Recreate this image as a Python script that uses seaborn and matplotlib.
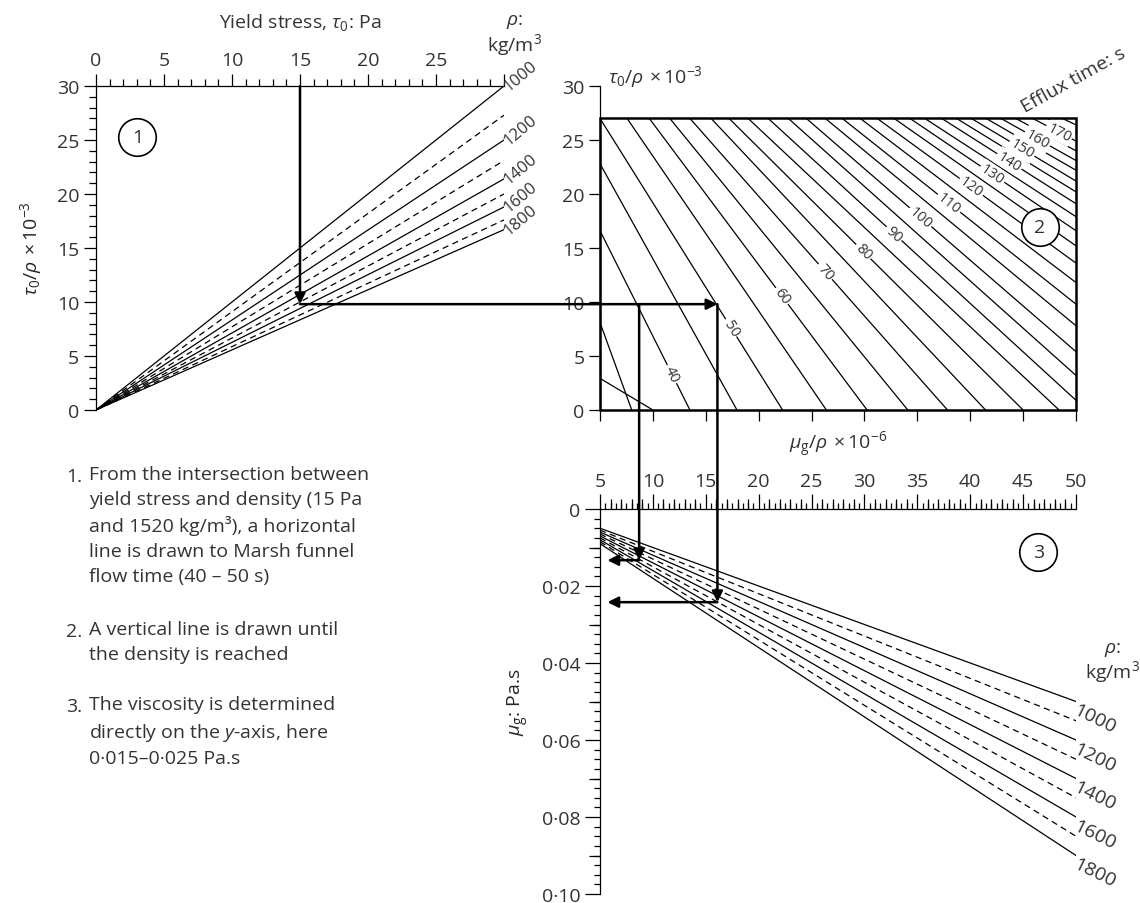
import numpy as np
import pandas as pd
import matplotlib
matplotlib.use("Agg")
import matplotlib.pyplot as plt
import seaborn as sns
from matplotlib.patches import Rectangle, ConnectionPatch
from matplotlib.ticker import MultipleLocator, FixedLocator, FuncFormatter

# ---------------- values ----------------
densities = [1000, 1100, 1200, 1300, 1400, 1500, 1600, 1700, 1800]
density_style = ["solid", "dashed", "solid", "dashed", "solid", "dashed", "solid", "dashed", "solid"]
density_labels = [1000, 1200, 1400, 1600, 1800]

# panel 1: tau0/rho (x1e-3) at tau0 = 0 and 30 Pa
p1_x = [0, 30]
p1_y_start = [0, 0, 0, 0, 0, 0, 0, 0, 0]
p1_y_end = [30.0, 27.3, 25.0, 23.1, 21.4, 20.0, 18.8, 17.6, 16.7]

# panel 3: mu_g (Pa.s) at mu_g/rho = 5 and 50
p3_x = [5, 50]
p3_y_start = [0.0050, 0.0055, 0.0060, 0.0065, 0.0070, 0.0075, 0.0080, 0.0085, 0.0090]
p3_y_end = [0.050, 0.055, 0.060, 0.065, 0.070, 0.075, 0.080, 0.085, 0.090]

# panel 2: efflux-time lines, end points on the frame (mu_g/rho, tau0/rho)
efflux_t = [30, 35, 40, 45, 50, 55, 60, 65, 70, 75, 80, 85, 90, 95, 100, 105, 110,
            115, 120, 125, 130, 135, 140, 145, 150, 155, 160, 165, 170, 175, 180]
efflux_x0 = [5, 5, 5, 5, 5, 7.56, 9.66, 11.6, 13.5, 15.5, 17.2, 19.0, 20.9, 22.8, 24.5, 26.3,
             27.9, 29.6, 31.2, 32.8, 34.3, 35.7, 37.3, 38.7, 40.1, 41.5, 42.9, 44.3, 45.9, 47.3, 48.7]
efflux_y0 = [2.93, 8.1, 16.6, 22.8, 27, 27, 27, 27, 27, 27, 27, 27, 27, 27, 27, 27,
             27, 27, 27, 27, 27, 27, 27, 27, 27, 27, 27, 27, 27, 27, 27]
efflux_x1 = [10.0, 8.0, 13.5, 17.95, 22.26, 26.4, 30.25, 34.1, 37.85, 41.45, 45.0, 48.4, 50, 50, 50, 50,
             50, 50, 50, 50, 50, 50, 50, 50, 50, 50, 50, 50, 50, 50, 50]
efflux_y1 = [0, 0, 0, 0, 0, 0, 0, 0, 0, 0, 0, 0, 0.9, 3.2, 5.4, 7.8,
             9.8, 11.8, 13.6, 15.2, 16.6, 17.9, 19.1, 20.2, 21.2, 22.2, 23.1, 24.0, 24.9, 25.7, 26.4]
efflux_labels = [40, 50, 60, 70, 80, 90, 100, 110, 120, 130, 140, 150, 160, 170]
efflux_label_x = [11.8, 17.4, 22.2, 26.3, 29.9, 32.8, 35.3, 38.0, 40.1, 42.1, 43.7, 44.9, 46.35, 48.4]

# worked example
ex_tau = 15
ex_tau_rho = 9.8
ex_mu_rho = [8.7, 16.1]
ex_mu = [0.0133, 0.0242]
ex_arrow_end = 5.7

# ---------------- style ----------------
sns.set_theme(style="ticks")
plt.rcParams["font.family"] = ["Open Sans", "DejaVu Sans"]
plt.rcParams["mathtext.fontset"] = "custom"
plt.rcParams["mathtext.rm"] = "Open Sans"
plt.rcParams["mathtext.it"] = "Open Sans:italic"
plt.rcParams["mathtext.bf"] = "Open Sans:bold"
plt.rcParams["axes.edgecolor"] = "black"
plt.rcParams["axes.linewidth"] = 0.9
plt.rcParams["xtick.color"] = "black"
plt.rcParams["ytick.color"] = "black"
plt.rcParams["xtick.labelcolor"] = "#333333"
plt.rcParams["ytick.labelcolor"] = "#333333"
plt.rcParams["text.color"] = "#333333"

INK = "black"
FS = 14
W, H = 1140, 904


def rect(l, t, r, b):
    return [l / W, 1 - b / H, (r - l) / W, (b - t) / H]


fig = plt.figure(figsize=(W / 100, H / 100), dpi=100)
ax1 = fig.add_axes(rect(96, 87, 504, 411))
ax2 = fig.add_axes(rect(600, 87, 1076, 411))
ax3 = fig.add_axes(rect(600, 510, 1076, 895))
for ax in (ax1, ax2, ax3):
    ax.set_facecolor("none")
    for s in ax.spines.values():
        s.set_visible(False)

# ---------------- panel 1 ----------------
p1 = pd.DataFrame({
    "x": np.tile(p1_x, len(densities)),
    "y": np.ravel(np.column_stack([p1_y_start, p1_y_end])),
    "rho": np.repeat(densities, 2),
    "kind": np.repeat(density_style, 2),
})
sns.lineplot(data=p1, x="x", y="y", units="rho", estimator=None, style="kind",
             dashes={"solid": "", "dashed": (5, 3.5)}, color=INK, lw=0.9,
             legend=False, sort=False, ax=ax1)
ax1.set_xlim(0, 30)
ax1.set_ylim(0, 30)
ax1.spines["top"].set_visible(True)
ax1.spines["left"].set_visible(True)
ax1.xaxis.tick_top()
ax1.xaxis.set_major_locator(FixedLocator([0, 5, 10, 15, 20, 25, 30]))
ax1.xaxis.set_major_formatter(FuncFormatter(lambda v, p: "" if v == 30 else f"{v:g}"))
ax1.xaxis.set_minor_locator(MultipleLocator(1))
ax1.yaxis.set_major_locator(MultipleLocator(5))
ax1.yaxis.set_minor_locator(MultipleLocator(1))
ax1.tick_params(axis="both", which="major", length=9, width=0.9, labelsize=FS, pad=3)
ax1.tick_params(axis="both", which="minor", length=5, width=0.9)
ax1.set_xlabel("")
ax1.set_ylabel(r"$\tau_0/\rho\,\times 10^{-3}$", fontsize=FS, labelpad=9)
ax1.text(15, 36.0, r"Yield stress, $\tau_0$: Pa", ha="center", va="center",
         fontsize=FS, clip_on=False)
ax1.text(30.8, 36.0, r"$\rho$:", ha="center", va="center", fontsize=FS, clip_on=False)
ax1.text(30.8, 33.9, "kg/m$^3$", ha="center", va="center", fontsize=FS, clip_on=False)
for rho, yend in zip(densities, p1_y_end):
    if rho in density_labels:
        ax1.text(30.15, yend - 0.2, str(rho), rotation=40, rotation_mode="anchor",
                 ha="left", va="center", fontsize=12, clip_on=False)
ax1.plot(3.05, 25.25, "o", ms=27, mfc="white", mec=INK, mew=1.2, clip_on=False, zorder=5)
ax1.text(3.05, 25.25, "1", ha="center", va="center", fontsize=FS, zorder=6)

# ---------------- panel 2 ----------------
p2 = pd.DataFrame({
    "x": np.ravel(np.column_stack([efflux_x0, efflux_x1])),
    "y": np.ravel(np.column_stack([efflux_y0, efflux_y1])),
    "t": np.repeat(efflux_t, 2),
})
sns.lineplot(data=p2, x="x", y="y", units="t", estimator=None, color=INK, lw=0.9,
             legend=False, sort=False, ax=ax2)
ax2.set_xlim(5, 50)
ax2.set_ylim(0, 30)
ax2.spines["left"].set_visible(True)
ax2.add_patch(Rectangle((5, 0), 45, 27, fill=False, ec=INK, lw=1.8, zorder=4, clip_on=False))
ax2.xaxis.set_major_locator(MultipleLocator(5))
ax2.yaxis.set_major_locator(MultipleLocator(5))
ax2.tick_params(axis="x", which="major", length=8, width=0.9, labelbottom=False)
ax2.tick_params(axis="y", which="major", length=8, width=0.9, labelsize=FS, pad=3)
ax2.set_xlabel("")
ax2.set_ylabel("")
ax2.text(5.75, 30.9, r"$\tau_0/\rho\,\times 10^{-3}$", ha="left", va="center", fontsize=FS)
ax2.text(45.2, 27.6, "Efflux time: s", rotation=29, rotation_mode="anchor",
         ha="left", va="baseline", fontsize=FS, clip_on=False)

fig.canvas.draw()
for t, lx in zip(efflux_labels, efflux_label_x):
    i = efflux_t.index(t)
    xa, ya, xb, yb = efflux_x0[i], efflux_y0[i], efflux_x1[i], efflux_y1[i]
    ly = ya + (yb - ya) * (lx - xa) / (xb - xa)
    pa = ax2.transData.transform((xa, ya))
    pb = ax2.transData.transform((xb, yb))
    ang = np.degrees(np.arctan2(pb[1] - pa[1], pb[0] - pa[0]))
    ax2.text(lx, ly, str(t), rotation=ang, rotation_mode="anchor", ha="center",
             va="center", fontsize=10.5, zorder=3,
             bbox=dict(boxstyle="square,pad=0.12", fc="white", ec="none"))
ax2.plot(46.6, 16.9, "o", ms=27, mfc="white", mec=INK, mew=1.2, zorder=5)
ax2.text(46.6, 16.9, "2", ha="center", va="center", fontsize=FS, zorder=6)

# ---------------- panel 3 ----------------
p3 = pd.DataFrame({
    "x": np.tile(p3_x, len(densities)),
    "y": np.ravel(np.column_stack([p3_y_start, p3_y_end])),
    "rho": np.repeat(densities, 2),
    "kind": np.repeat(density_style, 2),
})
sns.lineplot(data=p3, x="x", y="y", units="rho", estimator=None, style="kind",
             dashes={"solid": "", "dashed": (5, 3.5)}, color=INK, lw=0.9,
             legend=False, sort=False, ax=ax3)
ax3.set_xlim(5, 50)
ax3.set_ylim(0.10, 0)
ax3.spines["top"].set_visible(True)
ax3.spines["left"].set_visible(True)
ax3.xaxis.tick_top()
ax3.xaxis.set_major_locator(MultipleLocator(5))
ax3.xaxis.set_minor_locator(MultipleLocator(0.5))
ax3.yaxis.set_major_locator(MultipleLocator(0.02))
ax3.yaxis.set_minor_locator(MultipleLocator(0.0025))
ax3.yaxis.set_major_formatter(FuncFormatter(
    lambda v, p: "0" if abs(v) < 1e-9 else f"{v:.2f}".replace(".", "\u00b7")))
ax3.tick_params(axis="both", which="major", length=11, width=0.9, labelsize=FS, pad=3)
ax3.tick_params(axis="both", which="minor", length=4, width=0.9)
sec_x = ax3.secondary_xaxis("top")
sec_x.set_xticks([v for v in range(6, 50) if v % 5])
sec_x.tick_params(length=7, width=0.9, labeltop=False)
sec_x.spines["top"].set_visible(False)
sec_y = ax3.secondary_yaxis("left")
sec_y.set_yticks([0.01, 0.03, 0.05, 0.07, 0.09])
sec_y.tick_params(length=8, width=0.9, labelleft=False)
sec_y.spines["left"].set_visible(False)
ax3.set_xlabel("")
ax3.set_ylabel(r"$\mu_{\rm g}$: Pa.s", fontsize=FS, labelpad=8)
ax3.text(27.5, -0.0168, r"$\mu_{\rm g}/\rho\,\times 10^{-6}$", ha="center", va="center",
         fontsize=FS, clip_on=False)
for rho, yend in zip(densities, p3_y_end):
    if rho in density_labels:
        ax3.text(50.2, yend - 0.0002, str(rho), rotation=-26, rotation_mode="anchor",
                 ha="left", va="top", fontsize=14, clip_on=False)
ax3.text(53.5, 0.0364, r"$\rho$:", ha="center", va="center", fontsize=FS, clip_on=False)
ax3.text(53.5, 0.0420, "kg/m$^3$", ha="center", va="center", fontsize=FS, clip_on=False)
ax3.plot(46.45, 0.0111, "o", ms=27, mfc="white", mec=INK, mew=1.2, zorder=5)
ax3.text(46.45, 0.0111, "3", ha="center", va="center", fontsize=FS, zorder=6)

# ---------------- worked example arrows ----------------
arrow_kw = dict(arrowstyle="-|>", lw=1.8, color=INK, mutation_scale=16, shrinkA=0, shrinkB=0)
ax1.annotate("", xy=(ex_tau, ex_tau_rho), xytext=(ex_tau, 30), arrowprops=arrow_kw)
fig.add_artist(ConnectionPatch(xyA=(ex_tau, ex_tau_rho), coordsA=ax1.transData,
                               xyB=(ex_mu_rho[1], ex_tau_rho), coordsB=ax2.transData,
                               zorder=6, **arrow_kw))
for xm, mu in zip(ex_mu_rho, ex_mu):
    fig.add_artist(ConnectionPatch(xyA=(xm, ex_tau_rho), coordsA=ax2.transData,
                                   xyB=(xm, mu), coordsB=ax3.transData, zorder=6, **arrow_kw))
    ax3.annotate("", xy=(ex_arrow_end, mu), xytext=(xm, mu), arrowprops=arrow_kw)

# ---------------- instructions ----------------
steps = [
    ("1.", "From the intersection between\nyield stress and density (15 Pa\n"
           "and 1520 kg/m\u00b3), a horizontal\nline is drawn to Marsh funnel\n"
           "flow time (40 \u2013 50 s)", 477),
    ("2.", "A vertical line is drawn until\nthe density is reached", 632),
    ("3.", "The viscosity is determined\ndirectly on the $y$-axis, here\n"
           "0\u00b7015\u20130\u00b7025 Pa.s", 707),
]
for num, body, ypx in steps:
    fig.text(66 / W, 1 - ypx / H, num, ha="left", va="center", fontsize=FS)
    fig.text(89 / W, 1 - (ypx - 11) / H, body, ha="left", va="top", fontsize=FS,
             linespacing=1.48)

fig.savefig("out.png", dpi=100)
